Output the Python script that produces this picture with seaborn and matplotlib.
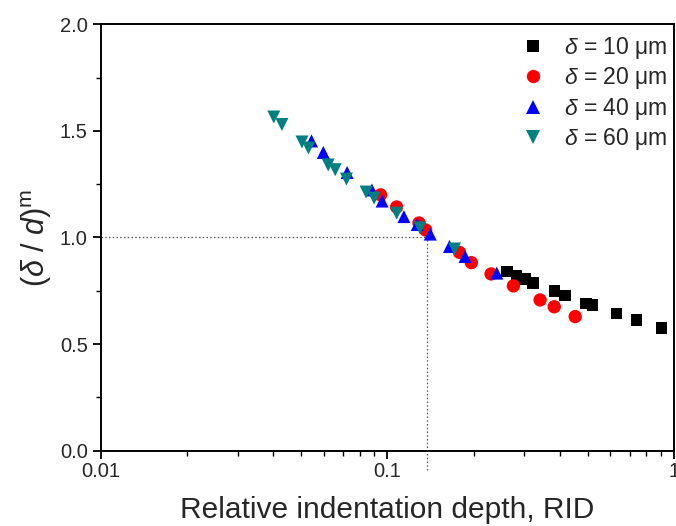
import numpy as np
import pandas as pd
import matplotlib
matplotlib.use('Agg')
import matplotlib.pyplot as plt
import seaborn as sns
from matplotlib.ticker import FixedLocator, MultipleLocator, FixedFormatter, NullFormatter
from matplotlib.lines import Line2D

# ---- data ----
rid_10 = [0.261, 0.282, 0.302, 0.322, 0.383, 0.417, 0.493, 0.520, 0.630, 0.741, 0.906]
ratio_10 = [0.840, 0.819, 0.805, 0.787, 0.748, 0.727, 0.691, 0.682, 0.643, 0.612, 0.574]

rid_20 = [0.0946, 0.1076, 0.1288, 0.1359, 0.1784, 0.1962, 0.2299, 0.2751, 0.341, 0.382, 0.452]
ratio_20 = [1.200, 1.143, 1.068, 1.035, 0.930, 0.882, 0.829, 0.773, 0.707, 0.675, 0.629]

rid_40 = [0.0543, 0.0597, 0.0723, 0.0882, 0.0958, 0.1141, 0.127, 0.141, 0.1646, 0.1865, 0.2407]
ratio_40 = [1.453, 1.399, 1.305, 1.223, 1.171, 1.098, 1.061, 1.016, 0.958, 0.911, 0.833]

rid_60 = [0.0401, 0.0428, 0.0503, 0.0530, 0.0621, 0.0657, 0.0719, 0.0842, 0.0898, 0.1077, 0.1298, 0.1714]
ratio_60 = [1.565, 1.530, 1.448, 1.420, 1.340, 1.318, 1.274, 1.213, 1.185, 1.114, 1.045, 0.946]

series_labels = [r'$\delta$ = 10 μm', r'$\delta$ = 20 μm', r'$\delta$ = 40 μm', r'$\delta$ = 60 μm']
x_ticks = [0.01, 0.1, 1]
x_tick_labels = ['0.01', '0.1', '1']
y_ticks = [0.0, 0.5, 1.0, 1.5, 2.0]
ref_x = 0.137
ref_y = 1.0

# ---- style ----
sns.set_style('ticks')
plt.rcParams['font.family'] = ['Liberation Sans', 'DejaVu Sans']
plt.rcParams['mathtext.fontset'] = 'custom'
plt.rcParams['mathtext.rm'] = 'Liberation Sans'
plt.rcParams['mathtext.it'] = 'Liberation Sans:italic'
plt.rcParams['mathtext.bf'] = 'Liberation Sans:bold'

colors = ['#000000', '#ff0000', '#0000ff', '#008080']
markers = ['s', 'o', '^', 'v']
sizes = [70, 92, 88, 88]

fig = plt.figure(figsize=(6.76, 5.26), dpi=100)
ax = fig.add_axes([0.1494, 0.1432, 0.8476, 0.8106])

all_x = [rid_10, rid_20, rid_40, rid_60]
all_y = [ratio_10, ratio_20, ratio_40, ratio_60]

for xs, ys, lab, c, m, s in zip(all_x, all_y, series_labels, colors, markers, sizes):
    df = pd.DataFrame({'RID': xs, 'ratio': ys})
    sns.scatterplot(data=df, x='RID', y='ratio', color=c, marker=m, s=s,
                    edgecolor='none', linewidth=0, ax=ax, legend=False, zorder=3)

# reference dotted lines
ax.hlines(ref_y, 0.01, ref_x, colors='#555555', linestyles=(0, (1.2, 1.8)), linewidth=0.9, zorder=1)
ax.vlines(ref_x, -0.09, ref_y, colors='#555555', linestyles=(0, (1.2, 1.8)), linewidth=0.9,
          zorder=1, clip_on=False)

ax.set_xscale('log')
ax.set_xlim(0.01, 1)
ax.set_ylim(0, 2.0)

minor_x = [k * 10.0 ** e for e in (-2, -1) for k in range(2, 10)]
ax.xaxis.set_major_locator(FixedLocator(x_ticks))
ax.xaxis.set_major_formatter(FixedFormatter(x_tick_labels))
ax.xaxis.set_minor_locator(FixedLocator(minor_x))
ax.xaxis.set_minor_formatter(NullFormatter())
ax.yaxis.set_major_locator(FixedLocator(y_ticks))
ax.yaxis.set_major_formatter(FixedFormatter([f'{v:.1f}' for v in y_ticks]))
ax.yaxis.set_minor_locator(MultipleLocator(0.25))

ax.tick_params(which='major', direction='out', length=6, width=1.3, labelsize=14.5, color='black')
ax.tick_params(which='minor', direction='out', length=3.5, width=1.0, color='black')
ax.tick_params(axis='x', which='major', pad=2)
ax.tick_params(axis='x', which='minor', bottom=True)
for sp in ax.spines.values():
    sp.set_linewidth(1.4)
    sp.set_color('black')
    sp.set_visible(True)

ax.set_xlabel('Relative indentation depth, RID', fontsize=21.5, labelpad=11)
ax.set_ylabel(r'$(\delta\ /\ d)^{\mathrm{m}}$', fontsize=22, labelpad=4)

handles = [Line2D([], [], marker=m, color=c, linestyle='none', markersize=np.sqrt(s), markeredgewidth=0)
           for c, m, s in zip(colors, markers, sizes)]
ax.legend(handles, series_labels, loc='upper right', frameon=False, fontsize=16.5,
          handlelength=1.0, handletextpad=0.85, labelspacing=0.2,
          borderaxespad=0.0, bbox_to_anchor=(1.004, 0.997))

fig.savefig('out.png', dpi=100)
